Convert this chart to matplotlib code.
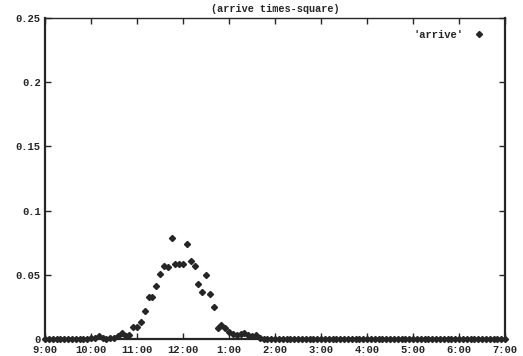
import numpy as np
import matplotlib
matplotlib.use("Agg")
import matplotlib.pyplot as plt

# arrival fraction per 5-minute bin, 9:00 through 7:00
minutes = np.arange(0, 601, 5)
arrive = [
    0, 0, 0, 0, 0, 0, 0, 0, 0, 0, 0, 0,
    0.001, 0.001, 0.002, 0.001, 0.0, 0.0005, 0.001, 0.002, 0.0045, 0.002,
    0.003, 0.0093, 0.0093, 0.013, 0.022, 0.033, 0.033, 0.0415, 0.0505,
    0.0572, 0.0563, 0.0789, 0.0588, 0.0583, 0.0588, 0.0738, 0.0605,
    0.0565, 0.0425, 0.0365, 0.0497, 0.0348, 0.025, 0.0083, 0.0109,
    0.0085, 0.0057, 0.0039, 0.003, 0.0039, 0.0049, 0.003, 0.002, 0.003,
    0.001,
]
arrive = arrive + [0] * (len(minutes) - len(arrive))

xtick_pos = [0, 60, 120, 180, 240, 300, 360, 420, 480, 540, 600]
xtick_labels = ["9:00", "10:00", "11:00", "12:00", "1:00", "2:00",
                "3:00", "4:00", "5:00", "6:00", "7:00"]
ytick_pos = [0, 0.05, 0.1, 0.15, 0.2, 0.25]
ytick_labels = ["0", "0.05", "0.1", "0.15", "0.2", "0.25"]

ink = "#262626"
mono = dict(family="Liberation Mono", weight="bold", size=7.6)

fig = plt.figure(figsize=(5.23, 3.56), dpi=100)
ax = fig.add_axes([45 / 523, 17 / 356, 460 / 523, 321 / 356])

ax.plot(minutes, arrive, linestyle="none", marker="D", markersize=3.1,
        color=ink, clip_on=False, label="'arrive'", zorder=3)

ax.set_xlim(0, 600)
ax.set_ylim(0, 0.25)
ax.set_xticks(xtick_pos)
ax.set_xticklabels(xtick_labels)
ax.set_yticks(ytick_pos)
ax.set_yticklabels(ytick_labels)

for lab in ax.get_xticklabels() + ax.get_yticklabels():
    lab.set_fontfamily(mono["family"])
    lab.set_fontweight(mono["weight"])
    lab.set_fontsize(mono["size"])
    lab.set_color(ink)

ax.tick_params(direction="in", length=4, width=1, color=ink,
               top=True, right=True, pad=4)
ax.tick_params(axis="y", pad=3)

for side in ["left", "bottom", "right"]:
    ax.spines[side].set_linewidth(1.6)
    ax.spines[side].set_color(ink)
ax.spines["top"].set_linewidth(1.0)
ax.spines["top"].set_color(ink)

ax.set_title("(arrive times-square)", fontfamily=mono["family"],
             fontweight="bold", fontsize=7.4, color=ink, pad=4)

leg = ax.legend(loc="center right", bbox_to_anchor=(0.955, 0.947),
                frameon=False, markerfirst=False, prop=mono,
                handletextpad=1.0, borderaxespad=0.0, borderpad=0.0,
                handlelength=1.0)
for t in leg.get_texts():
    t.set_color(ink)

fig.savefig("out.png", dpi=100, facecolor="white")
